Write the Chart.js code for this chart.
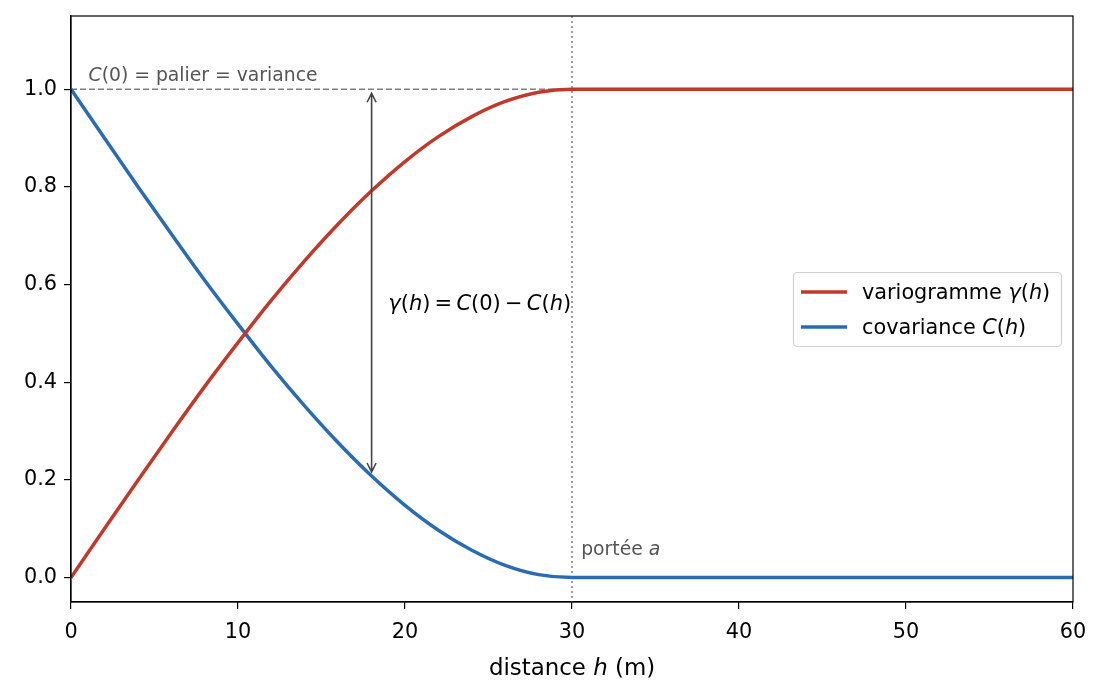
<!DOCTYPE html>
<html>
<head>
<meta charset="utf-8">
<script src="https://cdn.jsdelivr.net/npm/chart.js@4"></script>
<style>
  body { margin: 0; background: #fff; }
  canvas { display: block; }
</style>
</head>
<body>
<canvas id="chart" width="1105" height="696"></canvas>
<script>
// distances (m) and values
const distances = [0, 2, 4, 6, 8, 10, 12, 14, 16, 18, 20, 22, 24, 26, 28, 30, 40, 50, 60];
const variogram = [0, 0.100, 0.199, 0.296, 0.391, 0.481, 0.568, 0.649, 0.724, 0.792, 0.852, 0.903, 0.944, 0.975, 0.994, 1.0, 1.0, 1.0, 1.0];
const covariance = [1.0, 0.900, 0.801, 0.704, 0.609, 0.519, 0.432, 0.351, 0.276, 0.208, 0.148, 0.097, 0.056, 0.025, 0.006, 0, 0, 0, 0];
const xTicks = [0, 10, 20, 30, 40, 50, 60];
const yTicks = [0, 0.2, 0.4, 0.6, 0.8, 1.0];
const sill = 1.0;
const range = 30;
const arrowAt = 18;

const RED = '#c0392b';
const BLUE = '#2b6cb0';
const FONT = '"DejaVu Sans", sans-serif';
const THIN = '\u2009';

// draw text made of plain / italic pieces
function drawRich(ctx, parts, x, y, size, color, align) {
  ctx.save();
  ctx.fillStyle = color;
  ctx.textBaseline = 'alphabetic';
  ctx.textAlign = 'left';
  let total = 0;
  parts.forEach(p => {
    ctx.font = (p.i ? 'italic ' : '') + size + 'px ' + FONT;
    total += ctx.measureText(p.t).width;
  });
  let cx = x;
  if (align === 'center') cx = x - total / 2;
  parts.forEach(p => {
    ctx.font = (p.i ? 'italic ' : '') + size + 'px ' + FONT;
    ctx.fillText(p.t, cx, y);
    cx += ctx.measureText(p.t).width;
  });
  ctx.restore();
}

const extras = {
  id: 'extras',
  beforeDatasetsDraw(chart) {
    const ctx = chart.ctx;
    const x = chart.scales.x, y = chart.scales.y;
    const area = chart.chartArea;
    ctx.save();
    ctx.strokeStyle = '#808080';
    ctx.lineWidth = 1.5;
    ctx.setLineDash([6, 3]);
    ctx.beginPath();
    ctx.moveTo(area.left, y.getPixelForValue(sill));
    ctx.lineTo(area.right, y.getPixelForValue(sill));
    ctx.stroke();
    ctx.lineWidth = 1.5;
    ctx.setLineDash([2, 3]);
    ctx.beginPath();
    ctx.moveTo(x.getPixelForValue(range), area.top);
    ctx.lineTo(x.getPixelForValue(range), area.bottom);
    ctx.stroke();
    ctx.restore();
  },
  afterDatasetsDraw(chart) {
    const ctx = chart.ctx;
    const x = chart.scales.x, y = chart.scales.y;
    const area = chart.chartArea;

    // double arrow between C(h) and C(0)
    const ax = x.getPixelForValue(arrowAt);
    const y0 = y.getPixelForValue(covariance[distances.indexOf(arrowAt)]) - 4;
    const y1 = y.getPixelForValue(sill) + 4;
    ctx.save();
    ctx.strokeStyle = '#444';
    ctx.lineWidth = 1.6;
    ctx.beginPath();
    ctx.moveTo(ax, y0);
    ctx.lineTo(ax, y1);
    ctx.moveTo(ax - 4.5, y1 + 9);
    ctx.lineTo(ax, y1);
    ctx.lineTo(ax + 4.5, y1 + 9);
    ctx.moveTo(ax - 4.5, y0 - 9);
    ctx.lineTo(ax, y0);
    ctx.lineTo(ax + 4.5, y0 - 9);
    ctx.stroke();
    ctx.restore();

    drawRich(ctx, [{t: 'γ', i: 1}, {t: '('}, {t: 'h', i: 1}, {t: ')' + THIN + '=' + THIN}, {t: 'C', i: 1}, {t: '(0)' + THIN + '−' + THIN}, {t: 'C', i: 1}, {t: '('}, {t: 'h', i: 1}, {t: ')'}],
      x.getPixelForValue(19), y.getPixelForValue(0.547), 21, '#000');
    drawRich(ctx, [{t: 'C', i: 1}, {t: '(0) = palier = variance'}],
      x.getPixelForValue(1.05), y.getPixelForValue(1.017), 18.8, '#555');
    drawRich(ctx, [{t: 'portée '}, {t: 'a', i: 1}],
      x.getPixelForValue(30.55), y.getPixelForValue(0.047), 18.8, '#555');

    // box top/right
    ctx.save();
    ctx.strokeStyle = '#000';
    ctx.lineWidth = 1.2;
    ctx.strokeRect(area.left, area.top, area.right - area.left, area.bottom - area.top);
    ctx.restore();

    // legend
    const lx = 793, ly = 272, lw = 268, lh = 74;
    ctx.save();
    ctx.fillStyle = 'rgba(255,255,255,0.8)';
    ctx.strokeStyle = '#d0d0d0';
    ctx.lineWidth = 1.2;
    ctx.beginPath();
    ctx.roundRect(lx + 0.5, ly + 0.5, lw, lh, 4);
    ctx.fill();
    ctx.stroke();
    const rows = [
      {c: RED, parts: [{t: 'variogramme '}, {t: 'γ', i: 1}, {t: '('}, {t: 'h', i: 1}, {t: ')'}]},
      {c: BLUE, parts: [{t: 'covariance '}, {t: 'C', i: 1}, {t: '('}, {t: 'h', i: 1}, {t: ')'}]}
    ];
    rows.forEach((r, k) => {
      const ry = ly + 20 + k * 35;
      ctx.strokeStyle = r.c;
      ctx.lineWidth = 3.5;
      ctx.beginPath();
      ctx.moveTo(lx + 8, ry);
      ctx.lineTo(lx + 54, ry);
      ctx.stroke();
      drawRich(ctx, r.parts, lx + 69, ry + 7, 20.8, '#000');
    });
    ctx.restore();

    drawRich(ctx, [{t: 'distance '}, {t: 'h', i: 1}, {t: ' (m)'}],
      (area.left + area.right) / 2, 675, 22.9, '#000', 'center');
  }
};

const toPoints = vals => distances.map((d, i) => ({x: d, y: vals[i]}));

new Chart(document.getElementById('chart'), {
  type: 'line',
  data: {
    datasets: [{
      label: 'variogramme γ(h)',
      data: toPoints(variogram),
      borderColor: RED,
      borderWidth: 3.5,
      pointRadius: 0,
      cubicInterpolationMode: 'monotone'
    },
    {
      label: 'covariance C(h)',
      data: toPoints(covariance),
      borderColor: BLUE,
      borderWidth: 3.5,
      pointRadius: 0,
      cubicInterpolationMode: 'monotone'
    }]
  },
  options: {
    responsive: false,
    animation: false,
    layout: { padding: { top: 16, right: 32, left: 0, bottom: 0 } },
    plugins: {
      legend: { display: false },
      tooltip: { enabled: false }
    },
    scales: {
      x: {
        type: 'linear',
        min: 0,
        max: 60,
        afterFit: scale => { scale.height = 94; scale.paddingLeft = 0; scale.paddingRight = 0; },
        afterBuildTicks: scale => { scale.ticks = xTicks.map(v => ({value: v})); },
        grid: { drawOnChartArea: false, drawTicks: true, tickLength: 7, color: '#000', lineWidth: 1.2 },
        border: { display: true, color: '#000', width: 1.2 },
        ticks: { color: '#000', font: { family: FONT, size: 20.8 }, padding: 11, maxRotation: 0 }
      },
      y: {
        min: -0.05,
        max: 1.15,
        afterFit: scale => { scale.width = 71; scale.paddingTop = 0; scale.paddingBottom = 0; },
        afterBuildTicks: scale => { scale.ticks = yTicks.map(v => ({value: v})); },
        grid: { drawOnChartArea: false, drawTicks: true, tickLength: 7, color: '#000', lineWidth: 1.2 },
        border: { display: true, color: '#000', width: 1.2 },
        ticks: { color: '#000', font: { family: FONT, size: 20.8 }, padding: 7, callback: v => v.toFixed(1) }
      }
    }
  },
  plugins: [extras]
});
</script>
</body>
</html>
